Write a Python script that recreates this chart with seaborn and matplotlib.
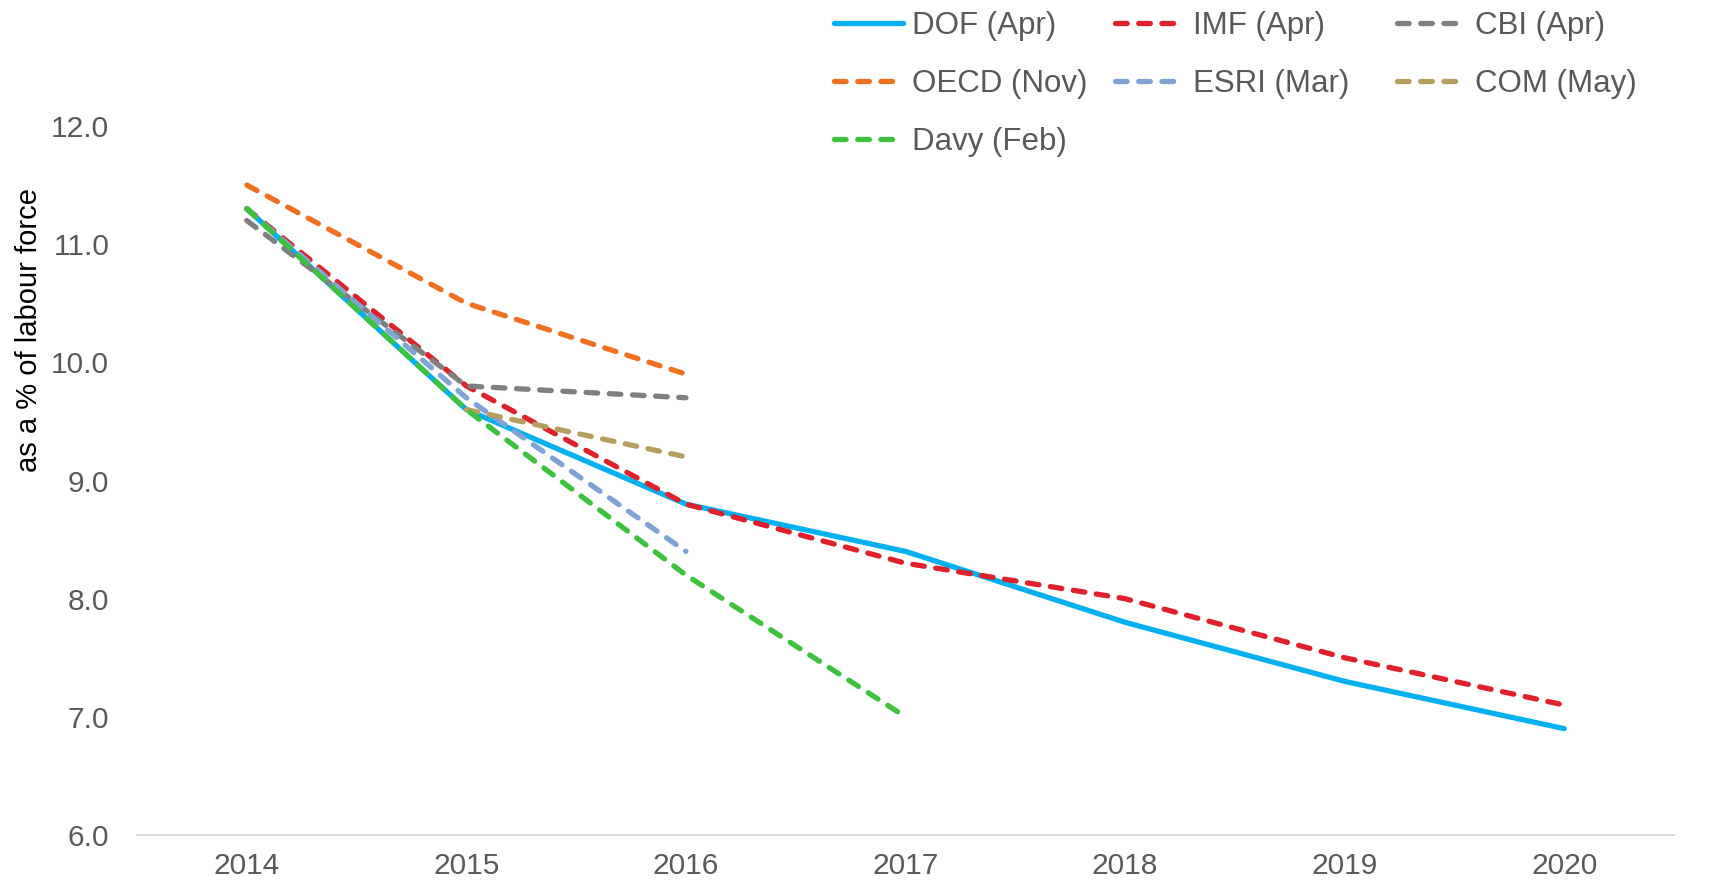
import matplotlib
matplotlib.use('Agg')
from matplotlib import pyplot as plt
import seaborn as sns
import pandas as pd
import numpy as np

years = ['2014', '2015', '2016', '2017', '2018', '2019', '2020']
nan = np.nan
dof = [11.3, 9.6, 8.8, 8.4, 7.8, 7.3, 6.9]
imf = [11.3, 9.8, 8.8, 8.3, 8.0, 7.5, 7.1]
cbi = [11.2, 9.8, 9.7, nan, nan, nan, nan]
oecd = [11.5, 10.5, 9.9, nan, nan, nan, nan]
esri = [11.3, 9.7, 8.4, nan, nan, nan, nan]
com = [nan, 9.6, 9.2, nan, nan, nan, nan]
davy = [11.3, 9.6, 8.2, 7.0, nan, nan, nan]

series = [
    ('DOF (Apr)', dof, '#00b0f0', False),
    ('IMF (Apr)', imf, '#e0202a', True),
    ('CBI (Apr)', cbi, '#7f7f7f', True),
    ('OECD (Nov)', oecd, '#f07020', True),
    ('ESRI (Mar)', esri, '#7fa3d4', True),
    ('COM (May)', com, '#b59e5f', True),
    ('Davy (Feb)', davy, '#3cc23c', True),
]

# legend columns as in the original (row-major, 3 per row)
legend_cols = [['DOF (Apr)', 'OECD (Nov)', 'Davy (Feb)'],
               ['IMF (Apr)', 'ESRI (Mar)'],
               ['CBI (Apr)', 'COM (May)']]
legend_x = [834, 1115, 1397]


def main():
    sns.set_style('white')
    plt.rcParams['font.family'] = ['Liberation Sans', 'DejaVu Sans']
    W, H = 1721, 882
    fig = plt.figure(figsize=(W / 100, H / 100), dpi=100)
    axe = fig.add_axes([137 / W, 1 - 835 / H, (1674 - 137) / W, (835 - 126) / H])

    handles = {}
    for name, vals, color, dashed in series:
        df = pd.DataFrame({'year': years, 'value': vals}).dropna()
        df['x'] = [years.index(y) for y in df['year']]
        sns.lineplot(x='x', y='value', data=df, ax=axe, color=color, linewidth=3.8,
                     label=name, legend=False)
        line = axe.get_lines()[-1]
        line.set_solid_capstyle('round')
        line.set_solid_joinstyle('round')
        if dashed:
            line.set_dashes([2.2, 2.2])
            line.set_dash_capstyle('round')
        handles[name] = line

    axe.set_xlim(-0.5, len(years) - 0.5)
    axe.set_ylim(6.0, 12.0)
    axe.set_xticks(range(len(years)))
    axe.set_xticklabels(years)
    yt = np.arange(6.0, 12.01, 1.0)
    axe.set_yticks(yt)
    axe.set_yticklabels(['{:.1f}'.format(v) for v in yt])
    axe.tick_params(axis='both', labelsize=21.5, labelcolor='#595959', length=0)
    axe.tick_params(axis='y', pad=20)
    axe.tick_params(axis='x', pad=12)
    for s in ['top', 'right', 'left']:
        axe.spines[s].set_visible(False)
    axe.spines['bottom'].set_color('#d9d9d9')
    axe.spines['bottom'].set_linewidth(1.3)
    axe.set_xlabel('')
    axe.set_ylabel('as a % of labour force', size=21, color='black')
    axe.yaxis.set_label_coords(-0.061, 0.712)

    for col, x in zip(legend_cols, legend_x):
        fig.legend(handles=[handles[n] for n in col], labels=col, ncol=1,
                   loc='upper left', bbox_to_anchor=(x / W, 1 - 11 / H), frameon=False,
                   fontsize=22.5, labelcolor='#595959', handlelength=2.2,
                   handletextpad=0.3, labelspacing=0.9, borderpad=0, borderaxespad=0)

    plt.savefig('out.png', dpi=100)


if __name__ == '__main__':
    main()
